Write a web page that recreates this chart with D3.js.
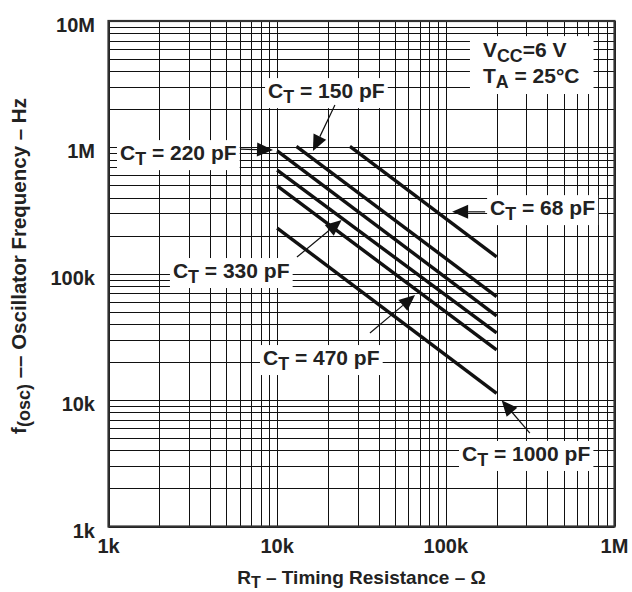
<!DOCTYPE html>
<html>
<head>
<meta charset="utf-8">
<script src="https://cdn.jsdelivr.net/npm/d3@7"></script>
<style>
  html, body { margin: 0; padding: 0; background: #fff; }
  svg { display: block; }
  text { font-family: "Liberation Sans", Arial, Helvetica, sans-serif; font-weight: bold; fill: #222; }
</style>
</head>
<body>
<svg id="chart" width="632" height="592"></svg>
<script>
// ---------- data ----------
const capLabels = ["68 pF", "150 pF", "220 pF", "330 pF", "470 pF", "1000 pF"];
const rStart = [27000, 13000, 10000, 10000, 10000, 10000];      // ohms
const rEnd   = [200000, 200000, 200000, 200000, 200000, 200000];
const fStart = [1020000, 1020000, 940000, 660000, 495000, 230000]; // Hz
const fEnd   = [136000, 66000, 46500, 34000, 25000, 11300];

const xTickValues = [1e3, 1e4, 1e5, 1e6];
const xTickLabels = ["1k", "10k", "100k", "1M"];
const yTickValues = [1e3, 1e4, 1e5, 1e6, 1e7];
const yTickLabels = ["1k", "10k", "100k", "1M", "10M"];

// annotation anchors in data units: text start, arrow tail, arrow tip
const annText  = [[183000, 291000], [8830, 2455000], [1170, 793000], [2410, 92500], [8240, 18950], [124700, 3300]];
const annTail  = [[171000, 309000], [22000, 2160000], [6020, 970000], [13100, 135500], [35500, 33960], [315000, 5490]];
const annTip   = [[109000, 309000], [16300, 935000], [9450, 952000], [24100, 266000], [65700, 67800], [214000, 10000]];

const condLines = [["V", "CC", "=6 V"], ["T", "A", " = 25°C"]];
const condPos = [[166000, 5180000], [166000, 3230000]];

// ---------- layout ----------
const svg = d3.select("#chart");
const L = 108.5, R = 614.5, T = 21, B = 526.5;
const x = d3.scaleLog().domain([1e3, 1e6]).range([L, R]);
const y = d3.scaleLog().domain([1e3, 1e7]).range([B, T]);
const px = v => Math.round(x(v)) + 0.5;
const py = v => Math.round(y(v)) + 0.5;

svg.append("rect").attr("width", 632).attr("height", 592).attr("fill", "#fff");

// gridlines
function decadeValues(lo, hi) {
  const out = [];
  for (let d = lo; d < hi; d *= 10) for (let k = 1; k <= 9; k++) out.push(k * d);
  out.push(hi);
  return out;
}
const g = svg.append("g");
g.selectAll("line.vx").data(decadeValues(1e3, 1e6)).join("line")
  .attr("x1", px).attr("x2", px).attr("y1", T).attr("y2", B)
  .attr("stroke", "#111").attr("stroke-width", 1);
g.selectAll("line.hy").data(decadeValues(1e3, 1e7)).join("line")
  .attr("y1", py).attr("y2", py).attr("x1", L).attr("x2", R)
  .attr("stroke", "#111").attr("stroke-width", 1);

// border
svg.append("rect").attr("x", L).attr("y", T).attr("width", R - L).attr("height", B - T)
  .attr("fill", "none").attr("stroke", "#333").attr("stroke-width", 2.2);

// axis tick labels
svg.selectAll("text.xt").data(xTickValues).join("text")
  .attr("x", d => x(d)).attr("y", 553).attr("text-anchor", "middle")
  .attr("font-size", 20).text((d, i) => xTickLabels[i]);
svg.selectAll("text.yt").data(yTickValues).join("text")
  .attr("x", 95).attr("y", d => y(d) + 11).attr("text-anchor", "end")
  .attr("font-size", 20).text((d, i) => yTickLabels[i]);

// axis titles
const xt = svg.append("text").attr("x", (L + R) / 2).attr("y", 584).attr("text-anchor", "middle").attr("font-size", 19);
xt.append("tspan").text("R");
xt.append("tspan").attr("dy", 4).attr("font-size", 16).text("T");
xt.append("tspan").attr("dy", -4).text(" – Timing Resistance – Ω");

const yt = svg.append("text").attr("transform", "translate(26,266) rotate(-90)").attr("text-anchor", "middle").attr("font-size", 20.5);
yt.append("tspan").text("f");
yt.append("tspan").attr("dy", 4).attr("font-size", 18).text("(osc)");
yt.append("tspan").attr("dy", -4).text(" –– Oscillator Frequency – Hz");

// curves
const line = d3.line().x(d => x(d[0])).y(d => y(d[1]));
svg.selectAll("path.curve").data(capLabels.map((c, i) => [[rStart[i], fStart[i]], [rEnd[i], fEnd[i]]]))
  .join("path").attr("d", line).attr("fill", "none").attr("stroke", "#111").attr("stroke-width", 3.4)
  .attr("stroke-linecap", "butt");

// labelled boxes helper
function subLabel(parent, xx, yy, main, sub, rest, fs) {
  const t = parent.append("text").attr("x", xx).attr("y", yy).attr("font-size", fs);
  t.append("tspan").text(main);
  t.append("tspan").attr("dy", 5).attr("font-size", fs * 0.85).text(sub);
  t.append("tspan").attr("dy", -5).text(rest);
  return t;
}

// conditions box
const cg = svg.append("g");
const cbox = cg.append("rect").attr("fill", "#fff");
const ct = condLines.map((c, i) => subLabel(cg, x(condPos[i][0]), y(condPos[i][1]), c[0], c[1], c[2], 21));
{
  const b0 = ct[0].node().getBBox(), b1 = ct[1].node().getBBox();
  const x0 = Math.min(b0.x, b1.x) - 13, x1 = Math.max(b0.x + b0.width, b1.x + b1.width) + 14;
  cbox.attr("x", x0).attr("y", b0.y - 2).attr("width", x1 - x0).attr("height", b1.y + b1.height - b0.y + 4);
}

// annotations
capLabels.forEach((c, i) => {
  const ag = svg.append("g");
  const box = ag.append("rect").attr("fill", "#fff");
  const t = subLabel(ag, x(annText[i][0]), y(annText[i][1]), "C", "T", " = " + c, 21);
  const b = t.node().getBBox();
  box.attr("x", b.x - 3).attr("y", b.y - 1).attr("width", b.width + 6).attr("height", b.height + 2);
  const x1 = x(annTail[i][0]), y1 = y(annTail[i][1]);
  const x2 = x(annTip[i][0]), y2 = y(annTip[i][1]);
  const ang = Math.atan2(y2 - y1, x2 - x1);
  const len = 16, hw = 7;
  const bx = x2 - len * Math.cos(ang), by = y2 - len * Math.sin(ang);
  ag.append("line").attr("x1", x1).attr("y1", y1).attr("x2", bx).attr("y2", by)
    .attr("stroke", "#111").attr("stroke-width", 1.2);
  ag.append("path").attr("fill", "#111").attr("d",
    `M${x2},${y2}L${bx + hw * Math.sin(ang)},${by - hw * Math.cos(ang)}L${bx - hw * Math.sin(ang)},${by + hw * Math.cos(ang)}Z`);
});
</script>
</body>
</html>
